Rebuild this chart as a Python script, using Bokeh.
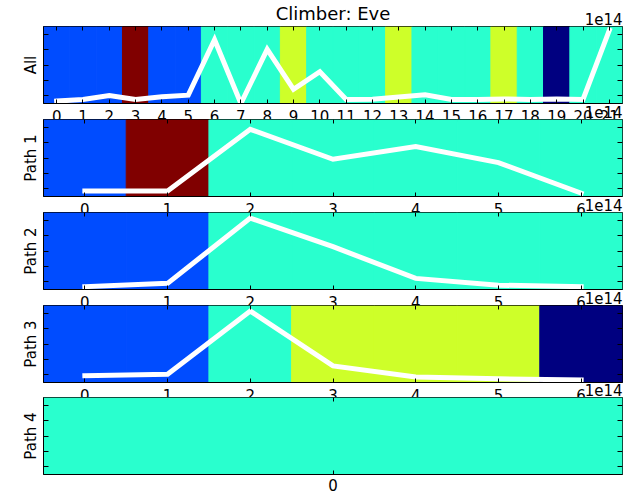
from bokeh.plotting import figure
from bokeh.layouts import column
from bokeh.models import (ColumnDataSource, LinearAxis, FixedTicker, Range1d,
                          Title, LinearColorMapper)
from bokeh.transform import transform
from bokeh.embed import file_html
from bokeh.resources import INLINE

TITLE = "Climber: Eve"
OFFSET_TEXT = "1e14"
PANEL_NAMES = ["All", "Path 1", "Path 2", "Path 3", "Path 4"]

# hold class per move (index into the jet palette below)
all_holds = [1, 1, 1, 5, 1, 1, 2, 2, 2, 3, 2, 2, 2, 3, 2, 2, 2, 3, 2, 0, 2, 2]
path1_holds = [1, 5, 2, 2, 2, 2, 2]
path2_holds = [1, 1, 2, 2, 2, 2, 2]
path3_holds = [1, 1, 2, 3, 3, 3, 0]
path4_holds = [2]

# effort per move, in units of 1e14
all_effort = [0.08, 0.13, 0.26, 0.13, 0.22, 0.27, 2.07, 0.0, 1.76, 0.46, 1.03,
              0.13, 0.14, 0.21, 0.28, 0.13, 0.13, 0.15, 0.13, 0.15, 0.13, 2.38]
path1_effort = [0.18, 0.18, 2.18, 1.21, 1.62, 1.10, 0.11]
path2_effort = [0.09, 0.20, 2.32, 1.39, 0.36, 0.14, 0.09]
path3_effort = [0.22, 0.27, 2.32, 0.54, 0.18, 0.12, 0.08]
path4_effort = [0.0]

Y_LO, Y_HI = 0.0, 2.5
Y_TICKS = [0.25, 0.75, 1.25, 1.75, 2.25]

# jet colormap sampled at 0, 0.2, ..., 1.0
JET6 = ["#000080", "#004CFF", "#29FFCE", "#CEFF29", "#FF6800", "#800000"]

FONT = "DejaVu Sans"
W = 638
HEADER_H = 26
FRAME_H = 77
TOP_BAND = 24      # band holding each panel's scale note
BOTTOM_BAND = 24   # band holding each panel's tick labels
PANEL_GAP = 16     # visible distance between stacked panels
LAST_BOTTOM = 22
BORDER_L, BORDER_R = 43, 16

panels = [
    (PANEL_NAMES[0], all_holds, all_effort),
    (PANEL_NAMES[1], path1_holds, path1_effort),
    (PANEL_NAMES[2], path2_holds, path2_effort),
    (PANEL_NAMES[3], path3_holds, path3_effort),
    (PANEL_NAMES[4], path4_holds, path4_effort),
]

mapper = LinearColorMapper(palette=JET6, low=-0.5, high=5.5)


def style_axis(ax, tick_in, label_standoff=None):
    ax.major_tick_in = tick_in
    ax.major_tick_out = 0
    ax.minor_tick_line_color = None
    ax.axis_line_color = "black"
    ax.major_tick_line_color = "black"
    ax.major_label_text_font = FONT
    ax.major_label_text_font_size = "15px"
    ax.major_label_text_color = "black"
    if label_standoff is not None:
        ax.major_label_standoff = label_standoff
    else:
        ax.major_label_overrides = {t: "" for t in ax.ticker.ticks}
        ax.major_label_text_color = None
        ax.major_label_standoff = 0


# header strip carrying the overall title
header = figure(width=W, height=HEADER_H, x_axis_type=None, y_axis_type=None,
                min_border=0, output_backend="svg", toolbar_location=None)
header.title.text = TITLE
header.title.align = "center"
header.title.text_font = FONT
header.title.text_font_size = "18px"
header.title.text_font_style = "normal"
header.title.text_color = "black"
header.title.standoff = 0
header.outline_line_color = None
header.background_fill_color = None
header.border_fill_color = None
header.xgrid.visible = False
header.ygrid.visible = False

figs = [header]
for k, (name, holds, effort) in enumerate(panels):
    n = len(holds)
    xs = list(range(n))
    last = k == len(panels) - 1
    bottom = LAST_BOTTOM if last else BOTTOM_BAND
    # pull each panel up so its note band overlaps the tick-label band above
    if k == 0:
        lift = TOP_BAND
    else:
        lift = TOP_BAND + (BOTTOM_BAND - PANEL_GAP) + (1 if last else 0)
    p = figure(width=W, height=TOP_BAND + FRAME_H + bottom,
               x_range=Range1d(-0.5, n - 0.5), y_range=Range1d(Y_LO, Y_HI),
               x_axis_type=None, y_axis_type=None,
               min_border_left=BORDER_L, min_border_right=BORDER_R,
               min_border_top=TOP_BAND, min_border_bottom=bottom,
               margin=(-lift, 0, 0, 0),
               output_backend="svg", toolbar_location=None)
    p.outline_line_color = "black"
    p.outline_line_width = 1
    p.border_fill_color = None
    p.background_fill_color = None
    p.xgrid.visible = False
    p.ygrid.visible = False

    # coloured hold cells behind the effort trace
    cells = ColumnDataSource(dict(left=[x - 0.5 for x in xs],
                                  right=[x + 0.5 for x in xs],
                                  code=holds))
    p.quad(left="left", right="right", bottom=Y_LO, top=Y_HI, source=cells,
           fill_color=transform("code", mapper),
           line_color=transform("code", mapper), line_width=1)

    p.line(xs, effort, line_color="white", line_width=5,
           line_cap="square", line_join="miter")

    # axes on all four sides, ticks pointing inward
    xb = LinearAxis(ticker=FixedTicker(ticks=xs))
    style_axis(xb, 4, 4 if last else 6)
    p.add_layout(xb, "below")
    xt = LinearAxis(ticker=FixedTicker(ticks=xs), fixed_location=Y_HI)
    style_axis(xt, 4)
    p.add_layout(xt, "above")
    yl = LinearAxis(ticker=FixedTicker(ticks=Y_TICKS), axis_label=name)
    style_axis(yl, 5)
    yl.axis_label_text_font = FONT
    yl.axis_label_text_font_size = "15px"
    yl.axis_label_text_font_style = "normal"
    yl.axis_label_text_color = "black"
    yl.axis_label_standoff = 4
    p.add_layout(yl, "left")
    yr = LinearAxis(ticker=FixedTicker(ticks=Y_TICKS), fixed_location=n - 0.5)
    style_axis(yr, 5)
    p.add_layout(yr, "right")

    # scale note at the top right of each panel
    note = Title(text=OFFSET_TEXT, align="right", text_font=FONT,
                 text_font_size="15px", text_font_style="normal",
                 text_color="black", standoff=3, offset=0)
    p.add_layout(note, "above")
    figs.append(p)

layout = column(*figs, spacing=0)
open("out.html", "w").write(file_html(layout, INLINE))
